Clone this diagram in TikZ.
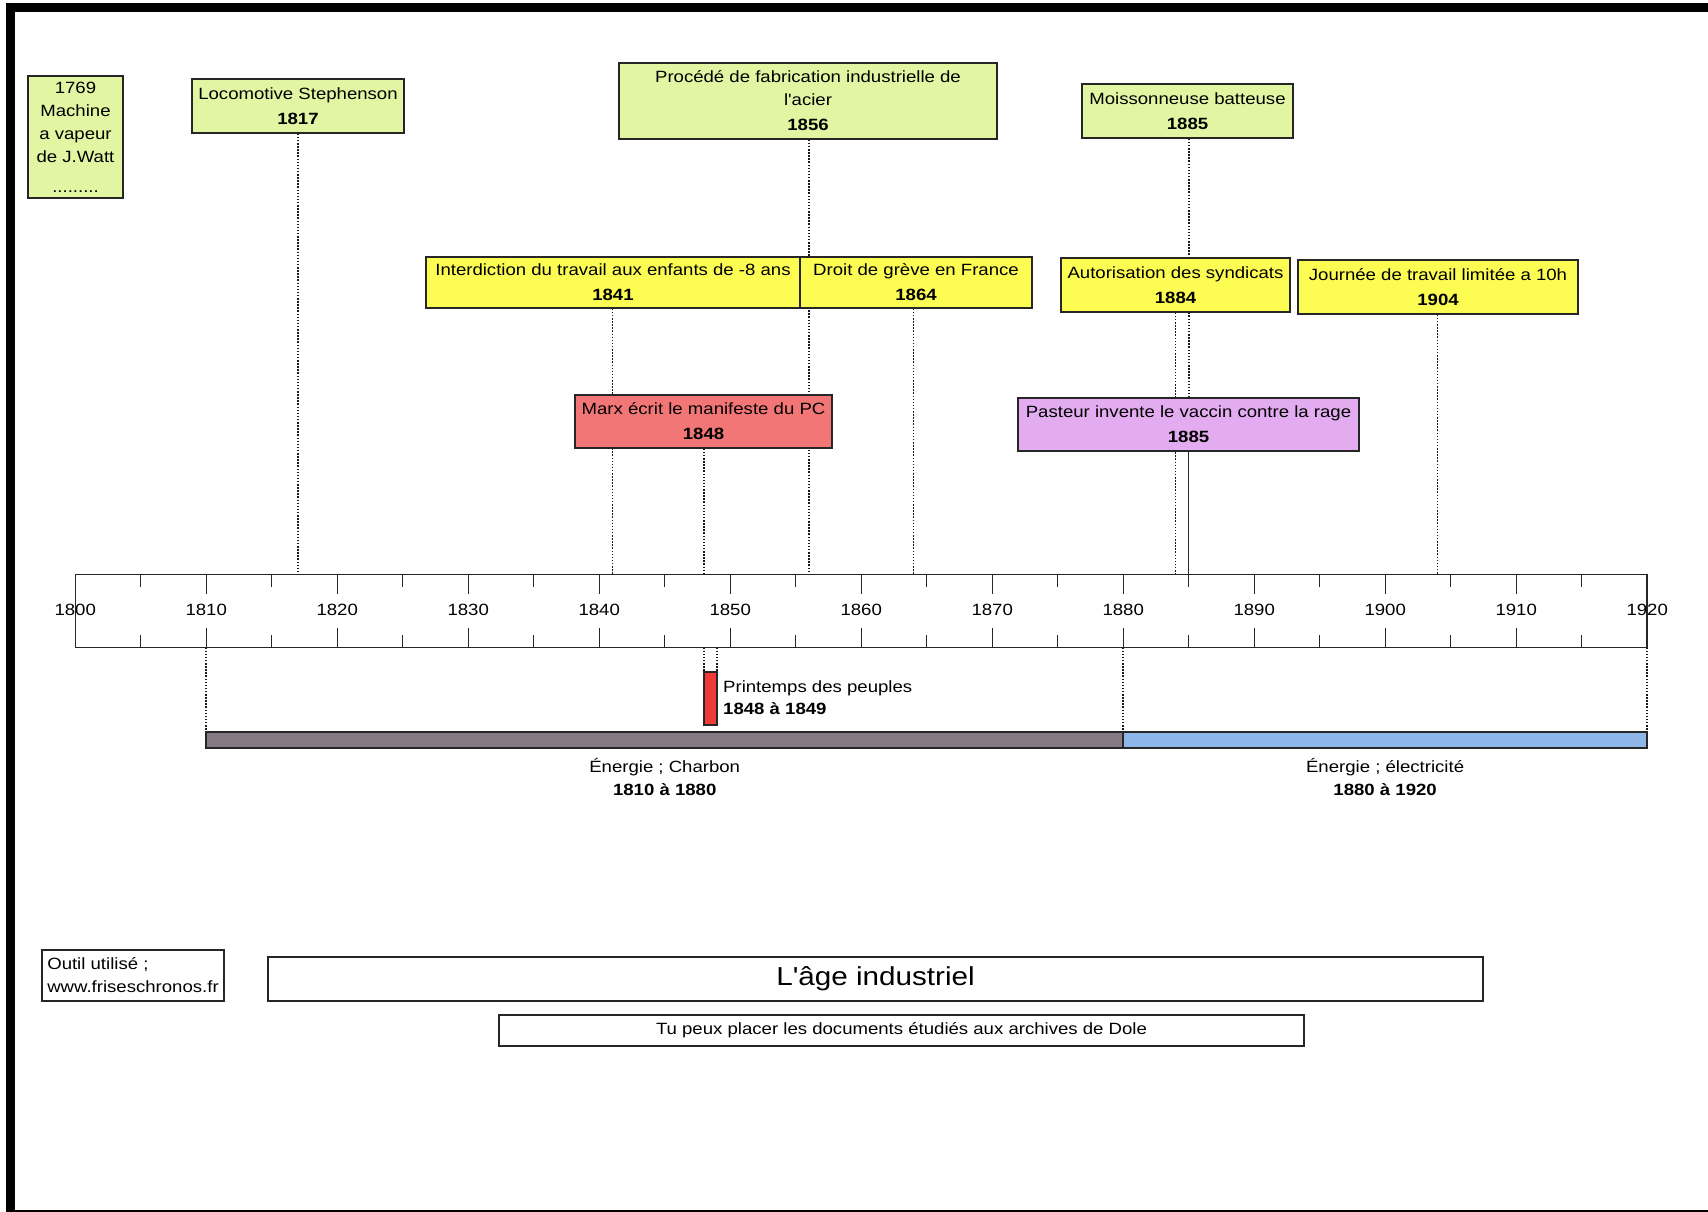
\documentclass[tikz,border=0pt]{standalone}
\usepackage{fontspec}
\setmainfont{Liberation Sans}[FakeStretch=1.14, Ligatures=TeXOff]
\pgfdeclarelayer{bgfill}
\pgfdeclarelayer{lines}
\pgfsetlayers{bgfill,lines,main}
\definecolor{evgreen}{RGB}{226,245,162}
\definecolor{evyellow}{RGB}{252,252,82}
\definecolor{evred}{RGB}{242,118,118}
\definecolor{evviolet}{RGB}{228,172,240}
\definecolor{coalc}{RGB}{134,122,133}
\definecolor{elecc}{RGB}{142,182,232}
\definecolor{springc}{RGB}{240,58,58}
\tikzset{
  x=1pt, y=-1pt,
  txt/.style={font=\fontsize{16.3}{23}\selectfont, inner sep=0pt, align=center, text=black},
  evbox/.style={txt, draw=black!85, line width=1.5pt},
  dotl/.style={line width=1.6pt, dash pattern=on 1.5pt off 1.6pt, black!90},
  solidl/.style={line width=1.3pt, black!85},
  tick/.style={line width=1.3pt, black!85},
  plainbox/.style={draw=black!85, line width=1.5pt, fill=white, inner sep=0pt},
}
\begin{document}
\begin{tikzpicture}
\useasboundingbox (0,0) rectangle (1708,1211);
\begin{pgfonlayer}{bgfill}
  \fill[white] (0,0) rectangle (1708,1211);
\end{pgfonlayer}
\draw[line width=9pt] (10,7.5) rectangle (1712,1214);

% axis
\node[draw=black!85, line width=1.3pt, minimum width=1571.8, minimum height=73, inner sep=0pt] (axis) at (861.1,611) {};
\foreach \k in {1,3,...,23} {
  \draw[tick] ({75.2+\k*65.5},574.5) -- ({75.2+\k*65.5},587);
  \draw[tick] ({75.2+\k*65.5},635) -- ({75.2+\k*65.5},647.5);
}
\foreach \k in {2,4,...,22} {
  \draw[tick] ({75.2+\k*65.5},574.5) -- ({75.2+\k*65.5},594);
  \draw[tick] ({75.2+\k*65.5},628) -- ({75.2+\k*65.5},647.5);
}
\foreach \k in {0,...,12} {
  \node[txt] (lab\k) at ({75.2+\k*131},610) {\number\numexpr1800+\k*10\relax};
}
\foreach \yy in {1817,1841,1848,1856,1864,1884,1885,1904} {
  \coordinate (a\yy) at ({75.2+(\yy-1800)*13.1},574.5);
}
\foreach \yy in {1810,1848,1849,1880,1920} {
  \coordinate (b\yy) at ({75.2+(\yy-1800)*13.1},647.5);
}

% event boxes
\node[evbox, fill=evgreen, minimum width=95, minimum height=122] (watt) at (75.5,137)
  {1769\\Machine\\a vapeur\\de J.Watt\\[7pt].........};
\node[evbox, fill=evgreen, minimum width=212, minimum height=54] (loco) at (298,106)
  {Locomotive Stephenson\\[2pt]\textbf{1817}};
\node[evbox, fill=evgreen, minimum width=378, minimum height=76] (acier) at (808,101)
  {Procédé de fabrication industrielle de\\l'acier\\[2pt]\textbf{1856}};
\node[evbox, fill=evgreen, minimum width=211, minimum height=54] (moiss) at (1187.5,111)
  {Moissonneuse batteuse\\[2pt]\textbf{1885}};
\node[evbox, fill=evyellow, minimum width=374, minimum height=51] (interd) at (613,282.5)
  {Interdiction du travail aux enfants de -8 ans\\[2pt]\textbf{1841}};
\node[evbox, fill=evyellow, minimum width=232, minimum height=51] (droit) at (916,282.5)
  {Droit de grève en France\\[2pt]\textbf{1864}};
\node[evbox, fill=evyellow, minimum width=229, minimum height=54] (autor) at (1175.5,285)
  {Autorisation des syndicats\\[2pt]\textbf{1884}};
\node[evbox, fill=evyellow, minimum width=280, minimum height=54] (journee) at (1438,287)
  {Journée de travail limitée a 10h\\[2pt]\textbf{1904}};
\node[evbox, fill=evred, minimum width=257, minimum height=53] (marx) at (703.5,421.5)
  {Marx écrit le manifeste du PC\\[2pt]\textbf{1848}};
\node[evbox, fill=evviolet, minimum width=341, minimum height=53] (pasteur) at (1188.5,424.5)
  {Pasteur invente le vaccin contre la rage\\[2pt]\textbf{1885}};

% connectors above axis
\begin{pgfonlayer}{lines}
  \draw[dotl] (a1817 |- loco.south) -- (a1817);
  \draw[dotl] (a1856 |- acier.south) -- (a1856);
  \draw[dotl] (a1885 |- moiss.south) -- (a1885 |- pasteur.north);
  \draw[dotl] (a1841 |- interd.south) -- (a1841);
  \draw[dotl] (a1864 |- droit.south) -- (a1864);
  \draw[dotl] (a1884 |- autor.south) -- (a1884);
  \draw[dotl] (a1904 |- journee.south) -- (a1904);
  \draw[dotl] (a1848 |- marx.south) -- (a1848);
\end{pgfonlayer}
\draw[solidl] (a1885 |- pasteur.south) -- (a1885);

% periods
\node[draw=black!85, line width=1.5pt, fill=coalc, minimum width=917, minimum height=16, inner sep=0pt] (coal) at (664.7,740) {};
\node[draw=black!85, line width=1.5pt, fill=elecc, minimum width=523.8, minimum height=16, inner sep=0pt] (elec) at (1385.1,740) {};
\node[draw=black!85, line width=1.3pt, fill=springc, minimum width=13, minimum height=53, inner sep=0pt] (spring) at (710.5,698.5) {};
\begin{pgfonlayer}{lines}
  \draw[dotl] (b1810) -- (b1810 |- coal.north);
  \draw[dotl, line width=2pt] (b1880) -- (b1880 |- coal.north);
  \draw[dotl] (b1920) -- (b1920 |- elec.north);
  \draw[dotl] (b1848) -- (b1848 |- spring.north);
  \draw[dotl] (b1849) -- (b1849 |- spring.north);
\end{pgfonlayer}
\node[txt, anchor=west, align=left, font=\fontsize{16.3}{22}\selectfont] (springlab) at (723,698)
  {Printemps des peuples\\\textbf{1848 à 1849}};
\node[txt] (coallab) at (664.7,776.5) {Énergie ; Charbon\\\textbf{1810 à 1880}};
\node[txt] (eleclab) at (1385.1,776.5) {Énergie ; électricité\\\textbf{1880 à 1920}};

% bottom boxes
\node[plainbox, txt, align=left, minimum width=182, minimum height=51, font=\fontsize{16.3}{23}\selectfont] (outil) at (133,975.5)
  {Outil utilisé ;\\www.friseschronos.fr};
\node[plainbox, minimum width=1215, minimum height=44, font=\fontsize{26}{30}\selectfont] (titre) at (875.5,979)
  {L'âge industriel};
\node[plainbox, minimum width=805, minimum height=31, font=\fontsize{16.3}{20}\selectfont] (sous) at (901.5,1030.5)
  {Tu peux placer les documents étudiés aux archives de Dole};
\end{tikzpicture}
\end{document}
